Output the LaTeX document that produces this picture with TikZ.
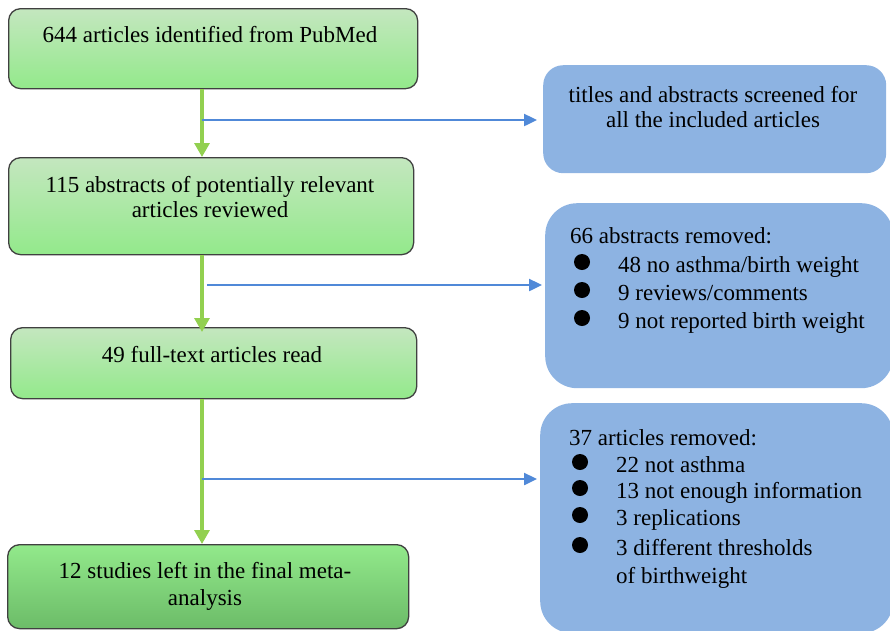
\documentclass[tikz,border=0pt]{standalone}
\usepackage{fontspec}
\setmainfont{Liberation Serif}
\usetikzlibrary{arrows.meta}
\definecolor{gline}{HTML}{92D050}
\definecolor{bline}{HTML}{5089D8}
\definecolor{bfill}{HTML}{8DB3E2}
\definecolor{gtop}{HTML}{C4E7BF}
\definecolor{gbot}{HTML}{93E98B}
\definecolor{gtop2}{HTML}{92E98B}
\definecolor{gbot2}{HTML}{6CBC68}
\definecolor{gborder}{HTML}{404040}
\tikzset{
  gbox/.style={draw=gborder, line width=1.3pt, rounded corners=12pt, top color=gtop, bottom color=gbot, anchor=north west, inner sep=0pt},
  gboxdark/.style={gbox, top color=gtop2, bottom color=gbot2},
  bbox/.style={fill=bfill, anchor=north west, inner sep=0pt},
  txt/.style={font=\fontsize{23}{27}\selectfont, inner sep=0pt},
  bul/.style={circle, fill=black, minimum size=16pt, inner sep=0pt},
  garrow/.style={draw=gline, line width=3.2pt, -{Triangle[width=15pt,length=14pt]}},
  barrow/.style={draw=bline, line width=2.4pt, -{Triangle[width=12pt,length=13pt]}},
}
\begin{document}
\begin{tikzpicture}[x=1pt,y=-1pt]
\useasboundingbox (0,0) rectangle (890,630);
\clip (0,0) rectangle (890,630);
% green boxes
\node[gbox, minimum width=409pt, minimum height=80pt] (b1) at (8,8) {};
\node[gbox, minimum width=405pt, minimum height=97pt] (b2) at (8,157) {};
\node[gbox, minimum width=406pt, minimum height=71pt] (b3) at (10,327) {};
\node[gboxdark, minimum width=401pt, minimum height=84pt] (b4) at (7,544) {};
% blue boxes
\node[bbox, rounded corners=20pt, minimum width=343pt, minimum height=108pt] (bA) at (543,65) {};
\node[bbox, rounded corners=32pt, minimum width=348pt, minimum height=185pt] (bB) at (545,203) {};
\node[bbox, rounded corners=32pt, minimum width=353pt, minimum height=230pt] (bC) at (540,403) {};
% texts
\node[txt, anchor=base] (t1) at (210,42) {644 articles identified from PubMed};
\node[txt, anchor=base] (t2a) at (210,192) {115 abstracts of potentially relevant};
\node[txt, anchor=base] (t2b) at (210,217) {articles reviewed};
\node[txt, anchor=base] (t3) at (212,362) {49 full-text articles read};
\node[txt, anchor=base] (t4a) at (205,578) {12 studies left in the final meta-};
\node[txt, anchor=base] (t4b) at (205,605) {analysis};
\node[txt, anchor=base] (tAa) at (713,102) {titles and abstracts screened for};
\node[txt, anchor=base] (tAb) at (713,127) {all the included articles};
\node[txt, anchor=base west] (tB0) at (570,243) {66 abstracts removed:};
\node[bul] (uB1) at (582,262) {};
\node[txt, anchor=base west] (tB1) at (618,272) {48 no asthma/birth weight};
\node[bul] (uB2) at (582,290) {};
\node[txt, anchor=base west] (tB2) at (618,300) {9 reviews/comments};
\node[bul] (uB3) at (582,318) {};
\node[txt, anchor=base west] (tB3) at (618,328) {9 not reported birth weight};
\node[txt, anchor=base west] (tC0) at (569,445) {37 articles removed:};
\node[bul] (uC1) at (580,462) {};
\node[txt, anchor=base west] (tC1) at (616,472) {22 not asthma};
\node[bul] (uC2) at (580,488) {};
\node[txt, anchor=base west] (tC2) at (616,498) {13 not enough information};
\node[bul] (uC3) at (580,515) {};
\node[txt, anchor=base west] (tC3) at (616,525) {3 replications};
\node[bul] (uC4) at (580,545) {};
\node[txt, anchor=base west] (tC4) at (616,555) {3 different thresholds};
\node[txt, anchor=base west] (tC5) at (616,583) {of birthweight};
% connectors
\coordinate (gx) at (202,0);
\coordinate (j1) at (202,120);
\coordinate (j2) at (207,285);
\coordinate (j3) at (202,479);
\draw[garrow] (b1.south -| gx) -- (b2.north -| gx);
\draw[garrow] (b2.south -| gx) -- ([yshift=-5pt]b3.north -| gx);
\draw[garrow] (b3.south -| gx) -- (b4.north -| gx);
\draw[barrow, shorten >=6pt] (j1) -- (j1 -| bA.west);
\draw[barrow, shorten >=3pt] (j2) -- (j2 -| bB.west);
\draw[barrow, shorten >=3pt] (j3) -- (j3 -| bC.west);
\end{tikzpicture}
\end{document}
